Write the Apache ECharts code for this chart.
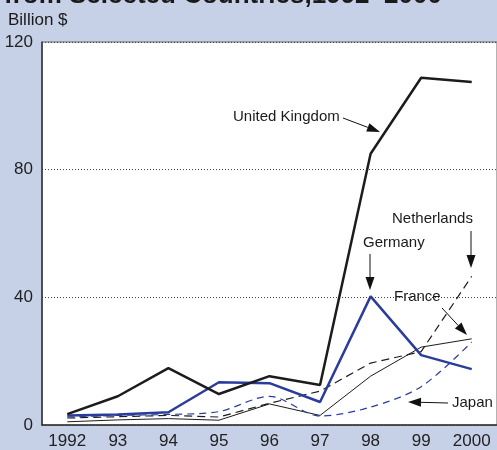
<!DOCTYPE html>
<html>
<head>
<meta charset="utf-8">
<script src="https://cdn.jsdelivr.net/npm/echarts@6/dist/echarts.min.js"></script>
<style>
  html, body { margin: 0; padding: 0; background: #c6d0e7; }
  #main { width: 497px; height: 450px; }
</style>
</head>
<body>
<div id="main"></div>
<script>
// years on the x axis
var years = ['1992', '93', '94', '95', '96', '97', '98', '99', '2000']
// billion $
var ukValues = [3.4, 9, 17.8, 9.7, 15.3, 12.5, 85, 108.8, 107.5]
var germanyValues = [3, 3.3, 4, 13.4, 13.1, 7.2, 40.3, 21.9, 17.5]
var franceValues = [1, 1.6, 2, 1.5, 6.6, 3, 15.3, 24.4, 27]
var netherlandsValues = [2.2, 2.6, 3, 2.5, 6.8, 10.6, 19.4, 23, 46.6]
var japanValues = [2.5, 3, 3.3, 4.2, 9, 2.8, 5.6, 12, 26]

var black = '#1c1c1c'
var blue = '#2b3d9b'
var font = '"Liberation Sans", Arial, sans-serif'

var chart = echarts.init(document.getElementById('main'))

function label(text, x, y, size, weight, valign) {
  return {
    type: 'text',
    x: x,
    y: y,
    style: {
      text: text,
      fill: '#1a1a1a',
      font: (weight || '') + ' ' + (size || 15) + 'px ' + font,
      align: 'left',
      verticalAlign: valign || 'middle'
    }
  }
}

// arrow: straight line with filled head at (x2, y2)
function arrow(x1, y1, x2, y2) {
  var ang = Math.atan2(y2 - y1, x2 - x1)
  var len = 13, half = 4.5
  var bx = x2 - len * Math.cos(ang), by = y2 - len * Math.sin(ang)
  var px = -Math.sin(ang) * half, py = Math.cos(ang) * half
  return [
    { type: 'line', shape: { x1: x1, y1: y1, x2: bx, y2: by }, style: { stroke: '#111', lineWidth: 1 } },
    { type: 'polygon', shape: { points: [[x2, y2], [bx + px, by + py], [bx - px, by - py]] }, style: { fill: '#111' } }
  ]
}

var graphics = [
  label('from Selected Countries,1992\u20132000', 4, 9, 26, 'bold', 'bottom'),
  label('Billion $', 8, 20, 17),
  label('United Kingdom', 233, 117),
  label('Netherlands', 392, 219),
  label('Germany', 363, 243),
  label('France', 394, 297),
  label('Japan', 452, 403)
]
graphics = graphics
  .concat(arrow(343, 118, 380, 132))
  .concat(arrow(471, 231, 471, 268))
  .concat(arrow(370, 254, 370, 290))
  .concat(arrow(442, 308, 467, 335))
  .concat(arrow(448, 403, 408, 402))

var option = {
  backgroundColor: '#c6d0e7',
  animation: false,
  grid: {
    left: 42, top: 42, right: 0, bottom: 24,
    show: true, backgroundColor: '#fff', borderColor: '#666', borderWidth: 1
  },
  xAxis: {
    type: 'category',
    data: years,
    boundaryGap: true,
    axisLine: { lineStyle: { color: '#333', width: 1.5 } },
    axisTick: { inside: true, length: 13, lineStyle: { color: '#333', width: 1 } },
    axisLabel: { color: '#222', fontSize: 17, fontFamily: font, margin: 8 }
  },
  yAxis: {
    type: 'value',
    min: 0, max: 120, interval: 40,
    axisLine: { show: true, lineStyle: { color: '#333', width: 1.5 } },
    axisTick: { show: false },
    axisLabel: { color: '#222', fontSize: 17, fontFamily: font, margin: 9 },
    splitLine: { lineStyle: { color: '#444', type: [1, 2], width: 1 } }
  },
  series: [
    { name: 'France', type: 'line', data: franceValues, symbol: 'none', lineStyle: { color: black, width: 1 } },
    { name: 'Netherlands', type: 'line', data: netherlandsValues, symbol: 'none', lineStyle: { color: black, width: 1.2, type: [8, 5] } },
    { name: 'Japan', type: 'line', data: japanValues, symbol: 'none', smooth: 0.3, lineStyle: { color: blue, width: 1.2, type: [7, 5] } },
    { name: 'Germany', type: 'line', data: germanyValues, symbol: 'none', lineStyle: { color: blue, width: 2.5 } },
    { name: 'United Kingdom', type: 'line', data: ukValues, symbol: 'none', lineStyle: { color: black, width: 2.5 } }
  ],
  graphic: graphics
}
chart.setOption(option)
</script>
</body>
</html>
